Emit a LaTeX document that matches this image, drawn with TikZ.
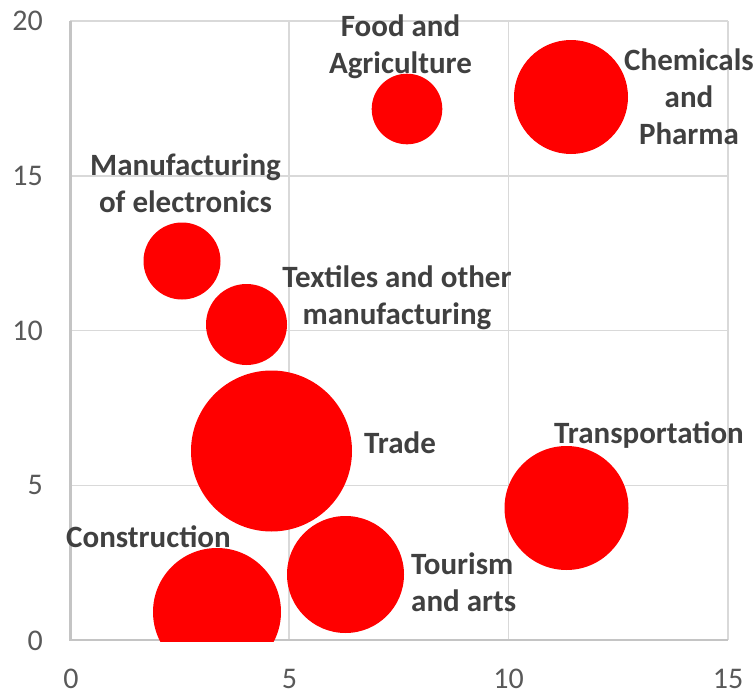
\documentclass[tikz,border=0pt]{standalone}
\usepackage{fontspec}
\setmainfont{Carlito}
\definecolor{bubblered}{HTML}{FF0000}
\definecolor{labelgray}{HTML}{404040}
\definecolor{tickgray}{HTML}{595959}
\definecolor{gridgray}{HTML}{D9D9D9}
\definecolor{axisgray}{HTML}{C4C4C4}
\begin{document}
\begin{tikzpicture}[x=1pt,y=-1pt,
  bubble/.style={circle,fill=bubblered,draw=none,inner sep=0pt,minimum size=#1},
  lbl/.style={font=\fontsize{31}{36.8}\selectfont\bfseries,text=labelgray,inner sep=0pt,align=center},
  ticklbl/.style={font=\fontsize{30}{36}\selectfont,text=tickgray,inner sep=0pt},
  gridln/.style={draw=gridgray,line width=1.5pt},
  axisln/.style={draw=axisgray,line width=2.2pt}]
\useasboundingbox (0,0) rectangle (756,696);
% grid
\foreach \gx in {289.2,508.5,727.8} \draw[gridln] (\gx,21) -- (\gx,640);
\foreach \gy in {485.3,330.5,175.75,21} \draw[gridln] (70,\gy) -- (727.8,\gy);
% axes
\draw[axisln] (70.5,21) -- (70.5,640) -- (727.8,640);
% bubbles
\begin{scope}
\clip (60,0) rectangle (756,641.5);
\node[bubble=70.6pt] (food) at (407,109) {};
\node[bubble=114pt] (chem) at (571,97) {};
\node[bubble=77pt] (elec) at (182,261) {};
\node[bubble=81pt] (text) at (246.5,324.5) {};
\node[bubble=161pt] (trade) at (271.5,451) {};
\node[bubble=124pt] (trans) at (566.5,508) {};
\node[bubble=117pt] (tour) at (345.5,574.5) {};
\node[bubble=128pt] (cons) at (217,612) {};
\end{scope}
% tick labels
\node[ticklbl,anchor=east] (y0) at (43,640.5) {0};
\node[ticklbl,anchor=east] (y5) at (43,485.3) {5};
\node[ticklbl,anchor=east] (y10) at (43,330.5) {10};
\node[ticklbl,anchor=east] (y15) at (43,176) {15};
\node[ticklbl,anchor=east] (y20) at (43,21) {20};
\node[ticklbl] (x0) at (71,678.5) {0};
\node[ticklbl] (x5) at (289.5,678.5) {5};
\node[ticklbl] (x10) at (508.5,678.5) {10};
\node[ticklbl] (x15) at (728,678.5) {15};
% labels (base anchor = baseline of the last line)
\node[lbl,anchor=base] (lfood) at (400.5,73) {Food and\\Agriculture};
\node[lbl,anchor=base] (lchem) at (689,144) {Chemicals\\and\\Pharma};
\node[lbl,anchor=base] (lelec) at (185.5,212) {Manufacturing\\of electronics};
\node[lbl,anchor=base] (ltext) at (397,324) {Textiles and other\\manufacturing};
\node[lbl,anchor=base west] (ltrade) at (364,453) {Trade};
\node[lbl,anchor=base west] (ltrans) at (554,443) {Transportation};
\node[lbl,anchor=base] (lcons) at (148.5,547) {Construction};
\node[lbl,anchor=base west,align=left] (ltour) at (411,611) {Tourism\\and arts};
\end{tikzpicture}
\end{document}
